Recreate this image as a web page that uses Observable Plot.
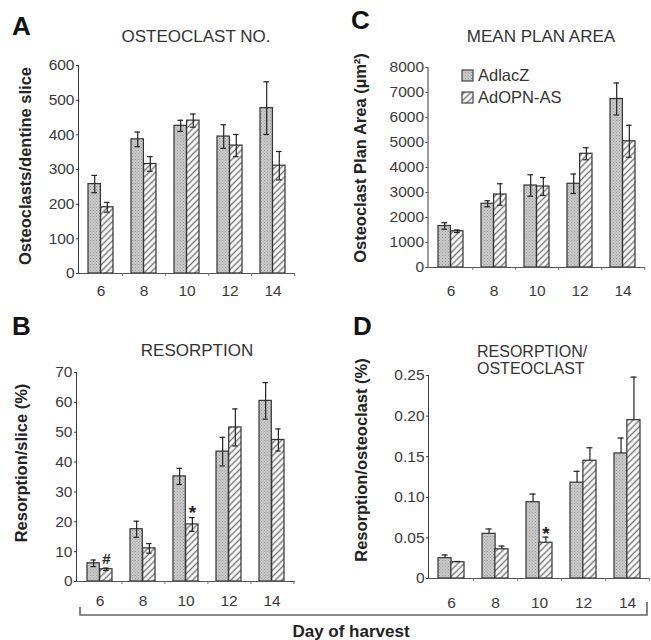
<!DOCTYPE html>
<html><head><meta charset="utf-8">
<script src="https://cdn.jsdelivr.net/npm/d3@7"></script>
<script src="https://cdn.jsdelivr.net/npm/@observablehq/plot@0.6"></script>
<style>
body{margin:0;background:#fff;}
#fig{position:relative;width:651px;height:640px;overflow:hidden;font-family:"Liberation Sans",Arial,Helvetica,sans-serif;}
#fig svg{position:absolute;}
</style></head><body><div id="fig"></div>
<script>
const days = ["6", "8", "10", "12", "14"];
const seriesNames = ["AdlacZ", "AdOPN-AS"];

// A: osteoclast number per dentine slice
const oclLacZ = [258, 387, 426, 395, 477];
const oclLacZErr = [25, 21, 16, 34, 76];
const oclOpn = [191, 316, 441, 369, 311];
const oclOpnErr = [14, 21, 19, 32, 41];

// B: resorption per slice (%)
const resLacZ = [6.1, 17.5, 35.2, 43.5, 60.5];
const resLacZErr = [1.1, 2.7, 2.7, 4.8, 6.1];
const resOpn = [4.1, 11.1, 19.1, 51.6, 47.4];
const resOpnErr = [0.4, 1.6, 2.3, 6.2, 3.7];

// C: mean plan area (µm²)
const areaLacZ = [1660, 2550, 3280, 3350, 6740];
const areaLacZErr = [130, 120, 430, 390, 640];
const areaOpn = [1450, 2920, 3240, 4550, 5050];
const areaOpnErr = [50, 430, 360, 240, 640];

// D: resorption per osteoclast (%)
const rpoLacZ = [0.025, 0.055, 0.094, 0.118, 0.154];
const rpoLacZErr = [0.004, 0.006, 0.010, 0.014, 0.019];
const rpoOpn = [0.020, 0.036, 0.044, 0.145, 0.195];
const rpoOpnErr = [0.001, 0.004, 0.007, 0.016, 0.053];

const ticksA = [0, 100, 200, 300, 400, 500, 600];
const ticksB = [0, 10, 20, 30, 40, 50, 60, 70];
const ticksC = [0, 1000, 2000, 3000, 4000, 5000, 6000, 7000, 8000];
const ticksD = [0, 0.05, 0.10, 0.15, 0.20, 0.25];

const notesB = [{day: "6", label: "#"}, {day: "10", label: "*"}];
const notesD = [{day: "10", label: "*"}];

const fig = d3.select("#fig");

// patterns
const defsSvg = fig.append("svg").attr("width", 0).attr("height", 0).style("left", "0px").style("top", "0px");
const defs = defsSvg.append("defs");
const st = defs.append("pattern").attr("id", "stipple").attr("patternUnits", "userSpaceOnUse").attr("width", 3).attr("height", 3);
st.append("rect").attr("width", 3).attr("height", 3).attr("fill", "#c9c9c9");
st.append("rect").attr("x", 0).attr("y", 0).attr("width", 1).attr("height", 1).attr("fill", "#9e9e9e");
st.append("rect").attr("x", 1.5).attr("y", 1.5).attr("width", 1).attr("height", 1).attr("fill", "#acacac");
const ht = defs.append("pattern").attr("id", "hatch").attr("patternUnits", "userSpaceOnUse").attr("width", 4.5).attr("height", 4.5).attr("patternTransform", "rotate(45)");
ht.append("rect").attr("width", 4.5).attr("height", 4.5).attr("fill", "#fff");
ht.append("line").attr("x1", 2.25).attr("y1", -1).attr("x2", 2.25).attr("y2", 5.5).attr("stroke", "#7a7a7a").attr("stroke-width", 1.5);

function panel(o) {
  const rows = days.flatMap((d, i) => [
    {day: d, series: seriesNames[0], value: o.lacZ[i], err: o.lacZErr[i]},
    {day: d, series: seriesNames[1], value: o.opn[i], err: o.opnErr[i]}
  ]);
  const W = o.width - o.ml - o.mr;
  const step = W / days.length;
  const bw = step * (1 - 0.42);
  const cap = 2.9;
  const groups = seriesNames.map(s => rows.filter(r => r.series === s));
  const ink = "#222";
  const marks = [
    Plot.barY(groups[0], {x: "day", y: "value", fill: "url(#stipple)", stroke: "#333", strokeWidth: 1.2, insetLeft: 0, insetRight: bw / 2}),
    Plot.barY(groups[1], {x: "day", y: "value", fill: "url(#hatch)", stroke: "#333", strokeWidth: 1.2, insetLeft: bw / 2, insetRight: 0}),
    Plot.ruleY([0], {stroke: "#555", strokeWidth: 1}),
    Plot.ruleX(days, {x: d => d, y1: () => 0, y2: () => 0, dx: step / 2, insetBottom: -3, stroke: "#777"})
  ];
  groups.forEach((g, k) => {
    const dx = k === 0 ? -bw / 4 : bw / 4;
    const ins = k === 0 ? {insetLeft: bw / 4 - cap, insetRight: 3 * bw / 4 - cap} : {insetLeft: 3 * bw / 4 - cap, insetRight: bw / 4 - cap};
    marks.push(Plot.ruleX(g, {x: "day", y1: d => o.upperOnly ? d.value : d.value - d.err, y2: d => d.value + d.err, dx, stroke: ink, strokeWidth: 1.2}));
    marks.push(Plot.tickY(g, {x: "day", y: d => d.value + d.err, ...ins, stroke: ink, strokeWidth: 1.2}));
    if (!o.upperOnly) marks.push(Plot.tickY(g, {x: "day", y: d => d.value - d.err, ...ins, stroke: ink, strokeWidth: 1.2}));
  });
  if (o.notes) {
    const top = d => { const r = groups[1].find(x => x.day === d.day); return r.value + r.err; };
    const hash = o.notes.filter(n => n.label === "#");
    const star = o.notes.filter(n => n.label === "*");
    if (hash.length) marks.push(Plot.text(hash, {x: "day", y: top, text: "label", dx: bw / 4, dy: -9, fontSize: 15, fontWeight: "bold", fill: "#222"}));
    if (star.length) marks.push(Plot.text(star, {x: "day", y: top, text: "label", dx: bw / 4, dy: o.starDy, fontSize: 19, fontWeight: "bold", fill: "#222"}));
  }
  const svg = Plot.plot({
    width: o.width, height: o.height,
    marginLeft: o.ml, marginRight: o.mr, marginTop: o.mt, marginBottom: o.mb,
    x: {type: "band", domain: days, paddingInner: 0.42, paddingOuter: 0.21, tickSize: 0, tickPadding: o.xPad, label: null},
    y: {domain: o.yDomain, ticks: o.yTicks, tickFormat: o.yFormat, tickSize: 2, tickPadding: 2, label: null, line: true},
    style: {fontFamily: '"Liberation Sans", Arial, sans-serif', fontSize: "15.5px", color: "#3a3a3a", background: "transparent", overflow: "visible"},
    marks
  });
  svg.style.position = "absolute";
  svg.style.left = o.left + "px";
  svg.style.top = o.top + "px";
  fig.node().appendChild(svg);
}

panel({lacZ: oclLacZ, lacZErr: oclLacZErr, opn: oclOpn, opnErr: oclOpnErr, yDomain: [0, 600], yTicks: ticksA, yFormat: d => String(d),
  left: 0, top: 0, width: 325, height: 305, ml: 78, mr: 30, mt: 65, mb: 32, xPad: 11});
panel({lacZ: resLacZ, lacZErr: resLacZErr, opn: resOpn, opnErr: resOpnErr, yDomain: [0, 70], yTicks: ticksB, yFormat: d => String(d),
  left: 0, top: 305, width: 325, height: 335, ml: 76, mr: 30, mt: 67, mb: 59, xPad: 13, notes: notesB, starDy: -5});
panel({lacZ: areaLacZ, lacZErr: areaLacZErr, opn: areaOpn, opnErr: areaOpnErr, yDomain: [0, 8000], yTicks: ticksC, yFormat: d => String(d),
  left: 325, top: 0, width: 326, height: 305, ml: 102.5, mr: 6, mt: 67, mb: 38, xPad: 17});
panel({lacZ: rpoLacZ, lacZErr: rpoLacZErr, opn: rpoOpn, opnErr: rpoOpnErr, yDomain: [0, 0.25], yTicks: ticksD, yFormat: d => d === 0 ? "0" : d.toFixed(2),
  left: 325, top: 305, width: 326, height: 335, ml: 103, mr: 1, mt: 70, mb: 62, xPad: 18, upperOnly: true, notes: notesD, starDy: -3});

// overlay: panel letters, titles, axis titles, legend, bracket
const ov = fig.append("svg").attr("width", 651).attr("height", 640).style("left", "0px").style("top", "0px")
  .style("pointer-events", "none").attr("font-family", '"Liberation Sans", Arial, sans-serif');
const txt = (x, y, s, size, weight, anchor, fill, rot) => {
  const t = ov.append("text").text(s).attr("font-size", size).attr("font-weight", weight).attr("text-anchor", anchor).attr("fill", fill);
  if (rot) t.attr("transform", `translate(${x},${y}) rotate(-90)`); else t.attr("x", x).attr("y", y);
  return t;
};
const letters = [["A", 12, 35], ["C", 351, 29], ["B", 12, 335], ["D", 353, 335]];
letters.forEach(([s, x, y]) => txt(x, y, s, 26, "bold", "start", "#111"));
txt(196, 42, "OSTEOCLAST NO.", 17, "normal", "middle", "#333");
txt(541, 42, "MEAN PLAN AREA", 17, "normal", "middle", "#333");
txt(197, 356, "RESORPTION", 17, "normal", "middle", "#333");
txt(477, 357, "RESORPTION/", 16, "normal", "start", "#333");
txt(477, 374, "OSTEOCLAST", 16, "normal", "start", "#333");
txt(31, 166, "Osteoclasts/dentine slice", 16.5, "bold", "middle", "#222", true);
txt(366, 158, "Osteoclast Plan Area (\u00b5m\u00b2)", 16.5, "bold", "middle", "#222", true);
txt(27, 463, "Resorption/slice (%)", 16.5, "bold", "middle", "#222", true);
txt(367, 460, "Resorption/osteoclast (%)", 16.5, "bold", "middle", "#222", true);
// legend
seriesNames.forEach((s, i) => {
  ov.append("rect").attr("x", 462).attr("y", 70 + i * 22).attr("width", 11).attr("height", 11)
    .attr("fill", i === 0 ? "url(#stipple)" : "url(#hatch)").attr("stroke", "#444").attr("stroke-width", 1.2);
  txt(478, 81 + i * 22, s, 16.5, "normal", "start", "#333");
});
// bracket + shared x title
ov.append("path").attr("d", "M80,607V615H647V602").attr("fill", "none").attr("stroke", "#666").attr("stroke-width", 1.6);
txt(351, 637, "Day of harvest", 17, "bold", "middle", "#222");
</script></body></html>
